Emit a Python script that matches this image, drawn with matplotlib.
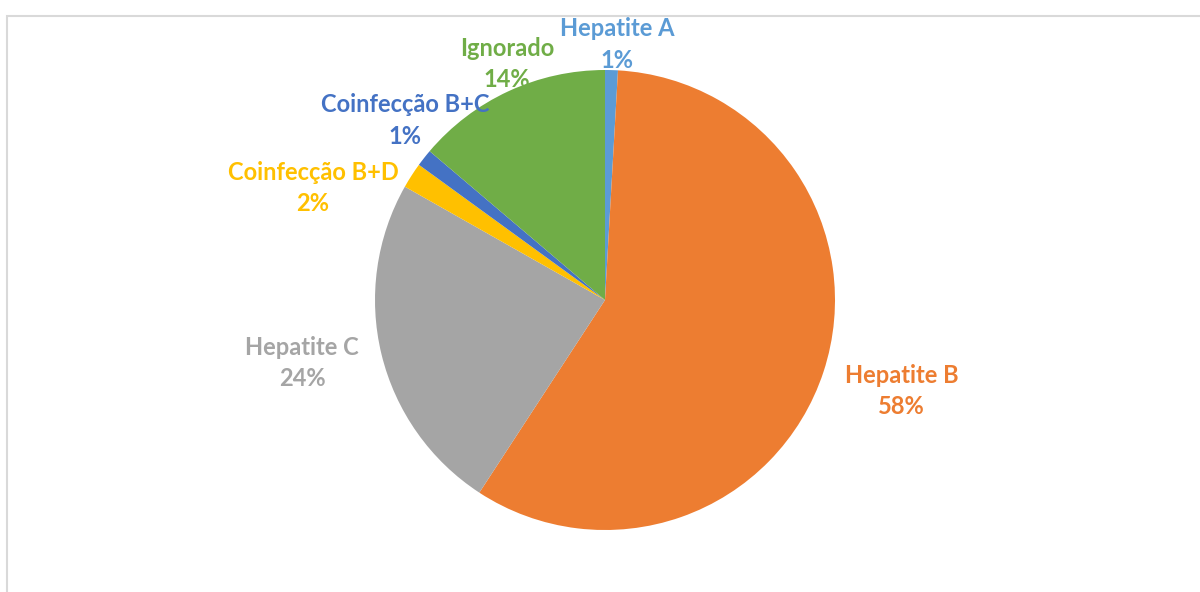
import numpy as np
import matplotlib.pyplot as plt
from matplotlib.patches import Rectangle

labels = ['Hepatite A', 'Hepatite B', 'Hepatite C', 'Coinfecção B+D', 'Coinfecção B+C', 'Ignorado']
values = [0.9, 58.3, 24.0, 1.8, 1.2, 13.8]
pct_text = ['1%', '58%', '24%', '2%', '1%', '14%']
colors = ['#5B9BD5', '#ED7D31', '#A5A5A5', '#FFC000', '#4472C4', '#70AD47']

# label centres (pie radius = 1)
lab_pos = [(0.052, 1.11), (1.29, -0.396), (-1.317, -0.274), (-1.27, 0.487), (-0.87, 0.78), (-0.426, 1.026)]

W, H = 1200, 592
cx, cy, R = 605, 300, 230

fig = plt.figure(figsize=(W / 100, H / 100), dpi=100)
ax = fig.add_axes([0, 0, 1, 1])

ax.pie(values, colors=colors, startangle=90, counterclock=False, radius=1,
       wedgeprops=dict(linewidth=0))

for lab, p, pos, c in zip(labels, pct_text, lab_pos, colors):
    ax.text(pos[0], pos[1], lab + '\n' + p, color=c, ha='center', va='center',
            fontsize=17, fontweight='bold', family=['Lato', 'DejaVu Sans'],
            linespacing=1.45)

ax.set_xlim((0 - cx) / R, (W - cx) / R)
ax.set_ylim((cy - H) / R, cy / R)
ax.set_aspect('auto')
ax.axis('off')

# chart frame
fig.patches.append(Rectangle((7 / W, -0.1), 1.1, 1.1 - 16 / H,
                             transform=fig.transFigure, fill=False,
                             edgecolor='#d9d9d9', linewidth=1.5))

fig.savefig('out.png', dpi=100)
